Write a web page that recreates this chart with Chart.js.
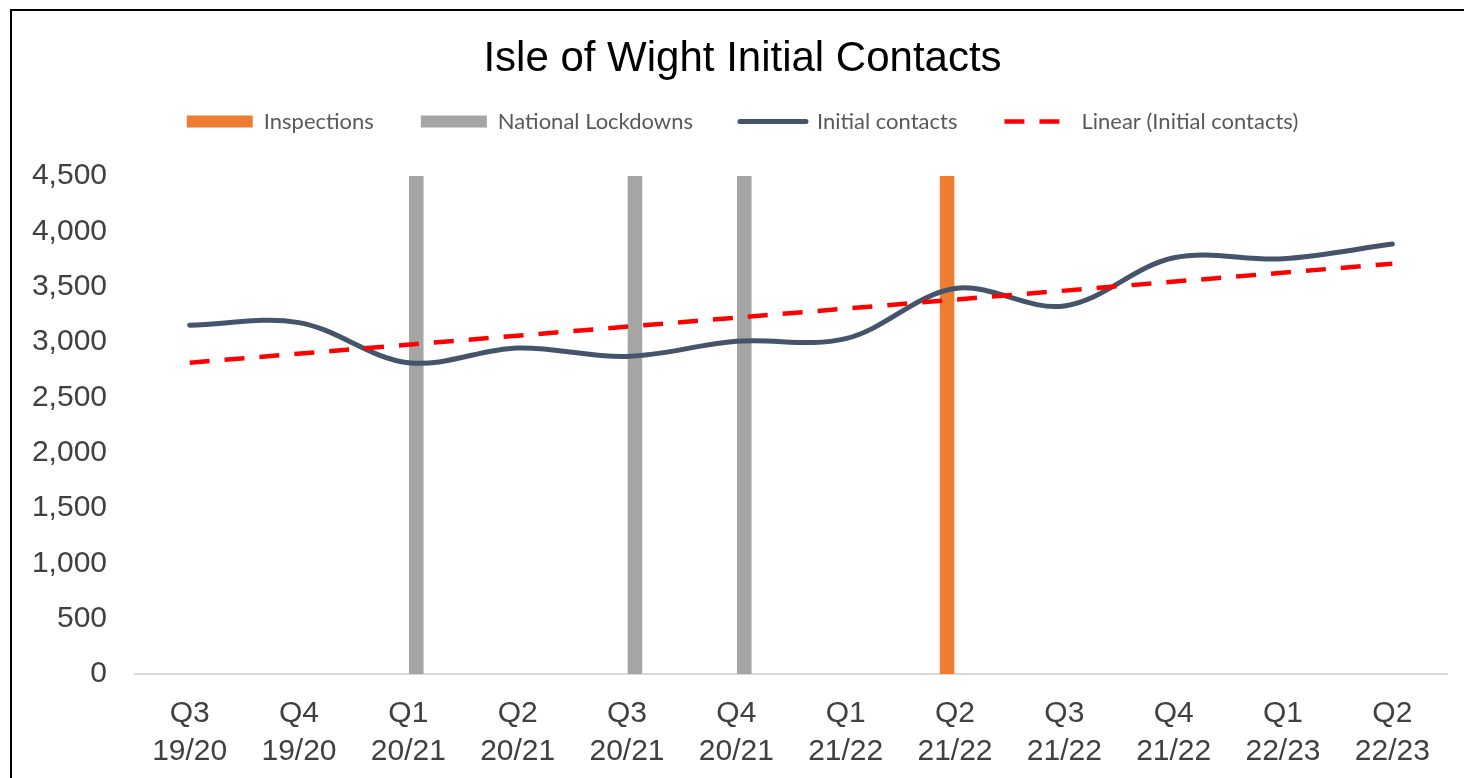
<!DOCTYPE html>
<html><head><meta charset="utf-8">
<script src="https://cdn.jsdelivr.net/npm/chart.js@4.4.1/dist/chart.umd.min.js"></script>
<style>
html,body{margin:0;padding:0;background:#fff;}
#frame{position:absolute;left:10px;top:9px;width:1452px;height:767px;border-top:2px solid #000;border-left:2px solid #000;}
#wrap{position:absolute;left:0;top:0;width:1452px;height:767px;}
</style></head><body>
<div id="frame"><div id="wrap"><canvas id="c"></canvas></div></div>
<script>
const chartTitle = 'Isle of Wight Initial Contacts';
const categories = [
  ['Q3','19/20'], ['Q4','19/20'], ['Q1','20/21'], ['Q2','20/21'],
  ['Q3','20/21'], ['Q4','20/21'], ['Q1','21/22'], ['Q2','21/22'],
  ['Q3','21/22'], ['Q4','21/22'], ['Q1','22/23'], ['Q2','22/23']
];
const initialContacts = [3151, 3175, 2813, 2946, 2870, 3006, 3030, 3483, 3326, 3761, 3752, 3885];
const inspections     = [null, null, null, null, null, null, null, 4500, null, null, null, null];
const lockdowns       = [null, null, 4500, null, 4500, 4500, null, null, null, null, null, null];
const linearTrend     = [2813, null, null, null, null, null, null, null, null, null, null, 3708];
const yMin = 0, yMax = 4500, yStep = 500;

const tickFont = {family: "'Liberation Sans', Arial, sans-serif", size: 30, lineHeight: 1.25};

new Chart(document.getElementById('c'), {
  type: 'bar',
  data: {
    labels: categories,
    datasets: [
      {label: 'Inspections', data: inspections, backgroundColor: '#ED7D31', borderWidth: 0,
       categoryPercentage: 0.29, barPercentage: 0.92, order: 3},
      {label: 'National Lockdowns', data: lockdowns, backgroundColor: '#A5A5A5', borderWidth: 0,
       categoryPercentage: 0.29, barPercentage: 0.92, order: 4},
      {type: 'line', label: 'Initial contacts', data: initialContacts, borderColor: '#44546A',
       backgroundColor: '#44546A', borderWidth: 5, tension: 0.35, pointRadius: 0,
       borderCapStyle: 'round', fill: false, order: 1},
      {type: 'line', label: 'Linear (Initial contacts)', data: linearTrend, borderColor: '#FF0000',
       backgroundColor: '#FF0000', borderWidth: 4.5, borderDash: [20, 15], spanGaps: true,
       pointRadius: 0, fill: false, order: 0}
    ]
  },
  options: {
    responsive: true,
    maintainAspectRatio: false,
    animation: false,
    layout: {padding: {left: 9, right: 0, top: 0, bottom: -13}},
    plugins: {
      title: {
        display: true, text: chartTitle, color: '#000',
        font: {family: "'Liberation Sans', Arial, sans-serif", size: 42, weight: 'normal', lineHeight: 1.2},
        padding: {top: 23, bottom: -20.9}
      },
      subtitle: {
        display: true, text: '', weight: 500, position: 'top',
        font: {size: 10, lineHeight: 1}, padding: {top: 23.5, bottom: 0}
      },
      legend: {
        display: true, position: 'top',
        labels: {
          color: '#595959',
          font: {family: "Lato, 'Open Sans', sans-serif", size: 22},
          usePointStyle: true, pointStyleWidth: 66, boxHeight: 12, padding: 47,
          sort: (a, b) => a.datasetIndex - b.datasetIndex,
          generateLabels: (chart) => {
            const items = Chart.defaults.plugins.legend.labels.generateLabels(chart);
            items.forEach(it => {
              const ds = chart.data.datasets[it.datasetIndex];
              if (ds.type === 'line') {
                it.pointStyle = 'line';
                it.strokeStyle = ds.borderColor;
                it.lineWidth = ds.borderWidth;
                it.lineDash = ds.borderDash || [];
                it.lineCap = ds.borderDash ? 'butt' : 'round';
              } else {
                it.pointStyle = 'rect';
                it.lineWidth = 0;
              }
            });
            return items;
          }
        }
      },
      tooltip: {enabled: false}
    },
    scales: {
      x: {
        grid: {display: false, drawTicks: false},
        border: {display: true, color: '#D9D9D9', width: 2},
        ticks: {color: '#404040', font: tickFont, padding: 21, maxRotation: 0, autoSkip: false}
      },
      y: {
        min: yMin, max: yMax,
        grid: {display: false, drawTicks: false},
        border: {display: false},
        ticks: {stepSize: yStep, color: '#404040', font: tickFont, padding: 28,
                callback: v => Number(v).toLocaleString('en-US')},
        afterFit: s => { s.width = 114; }
      },
      yRightSpace: {
        position: 'right', display: true,
        grid: {display: false, drawTicks: false},
        border: {display: false},
        ticks: {display: false},
        afterFit: s => { s.width = 17; }
      }
    }
  }
});
</script>
</body></html>
